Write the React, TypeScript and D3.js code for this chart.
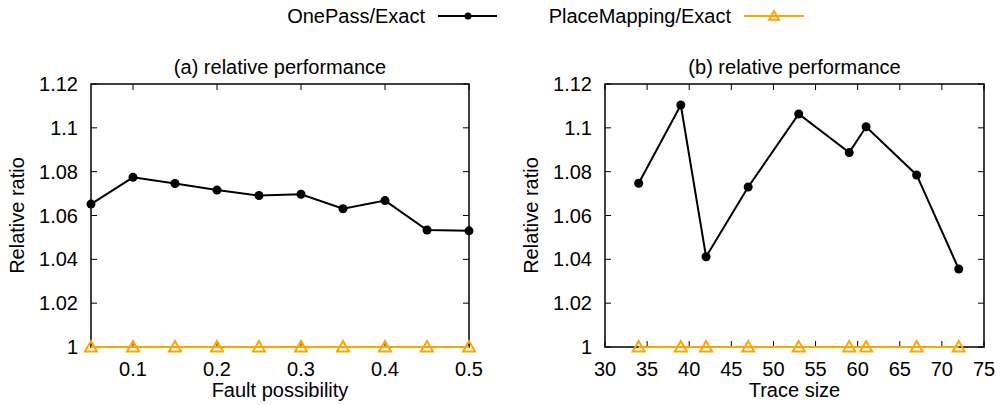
import React from 'react';
import * as d3 from 'd3';

const faultX = [0.05, 0.1, 0.15, 0.2, 0.25, 0.3, 0.35, 0.4, 0.45, 0.5];
const faultOnePass = [1.0652, 1.0774, 1.0746, 1.0716, 1.0691, 1.0697, 1.0631, 1.0668, 1.0534, 1.0530];
const faultPlace = [1, 1, 1, 1, 1, 1, 1, 1, 1, 1];

const traceX = [34, 39, 42, 47, 53, 59, 61, 67, 72];
const traceOnePass = [1.0747, 1.1104, 1.0412, 1.0730, 1.1063, 1.0887, 1.1005, 1.0785, 1.0356];
const tracePlace = [1, 1, 1, 1, 1, 1, 1, 1, 1];

const yTicks = [1, 1.02, 1.04, 1.06, 1.08, 1.1, 1.12];
const faultTicks = [0.1, 0.2, 0.3, 0.4, 0.5];
const traceTicks = [30, 35, 40, 45, 50, 55, 60, 65, 70, 75];

const FONT = '"Liberation Sans", Arial, sans-serif';
const FS = 20;
const ORANGE = '#ffa500';

// open triangle marker, gnuplot style
const tri = (x: number, y: number, r = 6) =>
  `M${x},${y - r}L${x + r},${y + r * 0.75}L${x - r},${y + r * 0.75}Z`;

type PanelProps = {
  left: number; right: number; title: string; xLabel: string;
  xDomain: [number, number]; xTicks: number[]; xs: number[];
  one: number[]; place: number[];
};

function Panel({ left, right, title, xLabel, xDomain, xTicks, xs, one, place }: PanelProps) {
  const top = 84, bottom = 347;
  const x = d3.scaleLinear().domain(xDomain).range([left, right]);
  const y = d3.scaleLinear().domain([1, 1.12]).range([bottom, top]);
  const line = d3.line<number>().x((_, i) => x(xs[i])).y(d => y(d));
  const fmt = (v: number) => String(+v.toFixed(2));
  const cx = (left + right) / 2;
  return (
    <g fontFamily={FONT} fontSize={FS} fill="#000">
      <text x={cx} y={74} textAnchor="middle">{title}</text>
      <text x={cx} y={397} textAnchor="middle">{xLabel}</text>
      <text transform={`translate(${left - 67},${(top + bottom) / 2}) rotate(-90)`} textAnchor="middle">Relative ratio</text>
      {yTicks.map(t => (
        <g key={t}>
          <line x1={left} x2={left + 6} y1={y(t)} y2={y(t)} stroke="#000" />
          <line x1={right} x2={right - 6} y1={y(t)} y2={y(t)} stroke="#000" />
          <text x={left - 13} y={y(t) + 7} textAnchor="end">{fmt(t)}</text>
        </g>
      ))}
      {xTicks.map(t => (
        <g key={t}>
          <line x1={x(t)} x2={x(t)} y1={bottom} y2={bottom - 6} stroke="#000" />
          <line x1={x(t)} x2={x(t)} y1={top} y2={top + 6} stroke="#000" />
          <text x={x(t)} y={376} textAnchor="middle">{fmt(t)}</text>
        </g>
      ))}
      <rect x={left} y={top} width={right - left} height={bottom - top} fill="none" stroke="#000" strokeWidth={1.5} />
      <path d={line(place) || ''} fill="none" stroke={ORANGE} strokeWidth={2} />
      {place.map((v, i) => (
        <path key={i} d={tri(x(xs[i]), y(v))} fill="none" stroke={ORANGE} strokeWidth={2} />
      ))}
      <path d={line(one) || ''} fill="none" stroke="#000" strokeWidth={2} />
      {one.map((v, i) => (
        <circle key={i} cx={x(xs[i])} cy={y(v)} r={4.5} fill="#000" />
      ))}
    </g>
  );
}

export default function App() {
  return (
    <svg width={1007} height={405} style={{ display: 'block', position: 'absolute', left: 0, top: 0 }}>
      <rect width={1007} height={405} fill="#fff" />
      <g fontFamily={FONT} fontSize={FS}>
        <text x={425} y={23} textAnchor="end">OnePass/Exact</text>
        <line x1={438} x2={497} y1={16} y2={16} stroke="#000" strokeWidth={2} />
        <circle cx={468} cy={16} r={3.5} fill="#000" />
        <text x={731} y={23} textAnchor="end">PlaceMapping/Exact</text>
        <line x1={744} x2={804} y1={16} y2={16} stroke={ORANGE} strokeWidth={2} />
        <path d={tri(774, 16, 5)} fill="none" stroke={ORANGE} strokeWidth={2} />
      </g>
      <Panel left={91} right={469} title="(a) relative performance" xLabel="Fault possibility"
        xDomain={[0.05, 0.5]} xTicks={faultTicks} xs={faultX} one={faultOnePass} place={faultPlace} />
      <Panel left={605} right={984} title="(b) relative performance" xLabel="Trace size"
        xDomain={[30, 75]} xTicks={traceTicks} xs={traceX} one={traceOnePass} place={tracePlace} />
    </svg>
  );
}
